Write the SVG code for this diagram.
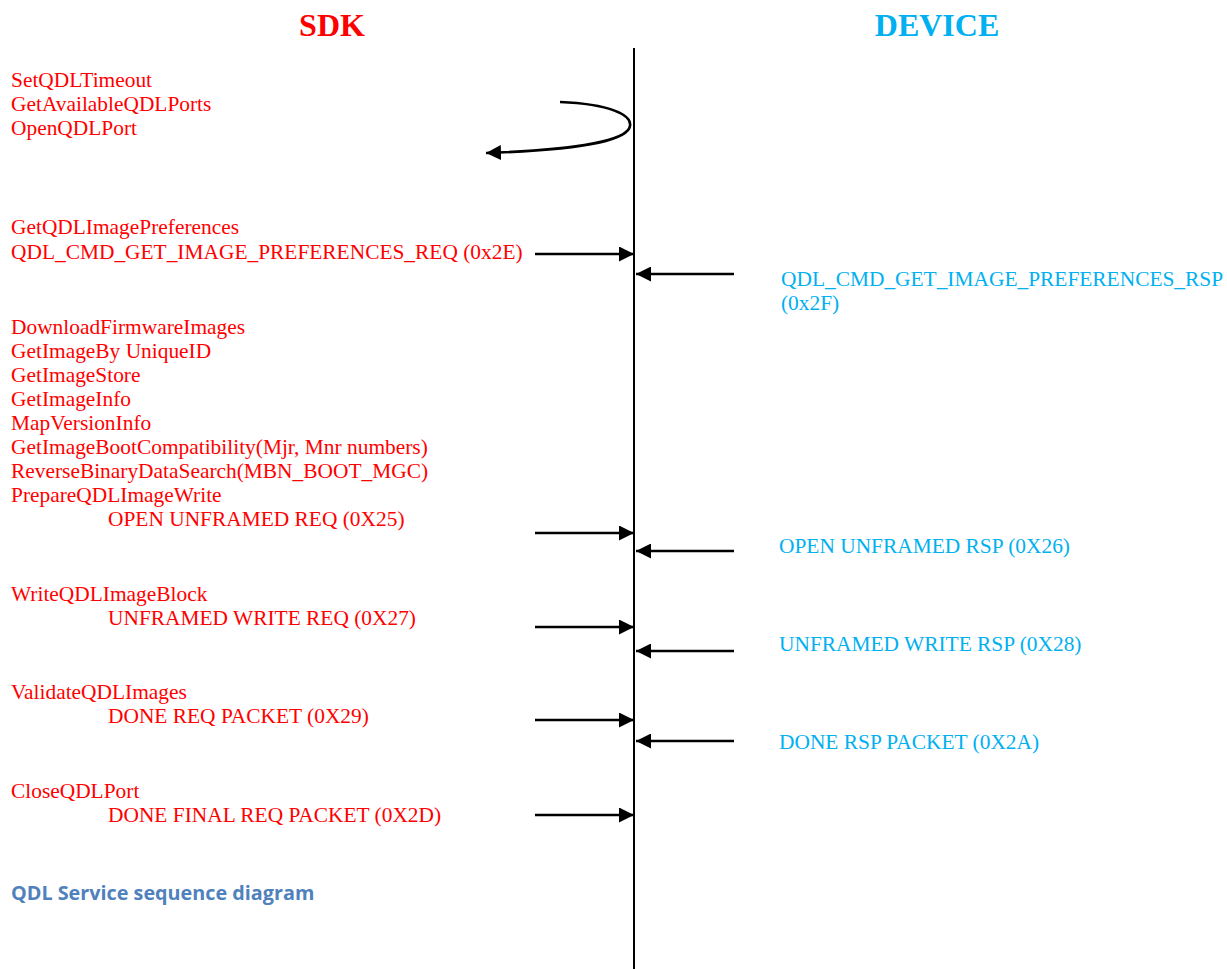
<svg xmlns="http://www.w3.org/2000/svg" width="1227" height="969" viewBox="0 0 1227 969">
<style>
.sdk{font-family:"Liberation Serif","Times New Roman",serif;font-size:21.4px;fill:#ff0000}
.dev{font-family:"Liberation Serif","Times New Roman",serif;font-size:21.4px;fill:#00b0f0}
.hdr{font-family:"Liberation Serif","Times New Roman",serif;font-size:32px;font-weight:bold;text-anchor:middle}
.cap{font-family:"Open Sans","Liberation Sans",sans-serif;font-size:19.8px;font-weight:bold;fill:#4f81bd}
.ln{stroke:#000;stroke-width:2.6;fill:none}
</style>
<defs>
<marker id="ah" viewBox="0 0 15 15" refX="15" refY="7.5" markerWidth="15" markerHeight="15" markerUnits="userSpaceOnUse" orient="auto">
<path d="M0,0 L15,7.5 L0,15 Z" fill="#000"/>
</marker>
</defs>
<rect width="1227" height="969" fill="#fff"/>
<g id="sdk-header"><text class="hdr" x="332" y="36" fill="#ff0000">SDK</text></g>
<g id="device-header"><text class="hdr" x="937" y="36" fill="#00b0f0">DEVICE</text></g>
<g id="lifeline"><line x1="634" y1="48" x2="634" y2="969" stroke="#000" stroke-width="2"/></g>
<g id="sdk-open">
<text class="sdk" x="11" y="86.5">SetQDLTimeout</text>
<text class="sdk" x="11" y="110.5">GetAvailableQDLPorts</text>
<text class="sdk" x="11" y="134.5">OpenQDLPort</text>
</g>
<g id="sdk-prefs">
<text class="sdk" x="11" y="234">GetQDLImagePreferences</text>
<text class="sdk" x="11" y="259">QDL_CMD_GET_IMAGE_PREFERENCES_REQ (0x2E)</text>
</g>
<g id="dev-prefs">
<text class="dev" x="781" y="286">QDL_CMD_GET_IMAGE_PREFERENCES_RSP</text>
<text class="dev" x="781" y="310">(0x2F)</text>
</g>
<g id="sdk-download">
<text class="sdk" x="11" y="334">DownloadFirmwareImages</text>
<text class="sdk" x="11" y="358">GetImageBy UniqueID</text>
<text class="sdk" x="11" y="382">GetImageStore</text>
<text class="sdk" x="11" y="406">GetImageInfo</text>
<text class="sdk" x="11" y="430">MapVersionInfo</text>
<text class="sdk" x="11" y="454">GetImageBootCompatibility(Mjr, Mnr numbers)</text>
<text class="sdk" x="11" y="478">ReverseBinaryDataSearch(MBN_BOOT_MGC)</text>
<text class="sdk" x="11" y="502">PrepareQDLImageWrite</text>
<text class="sdk" x="108" y="526">OPEN UNFRAMED REQ (0X25)</text>
</g>
<g id="dev-open"><text class="dev" x="779" y="553">OPEN UNFRAMED RSP (0X26)</text></g>
<g id="sdk-write">
<text class="sdk" x="11" y="601">WriteQDLImageBlock</text>
<text class="sdk" x="108" y="625">UNFRAMED WRITE REQ (0X27)</text>
</g>
<g id="dev-write"><text class="dev" x="779" y="651">UNFRAMED WRITE RSP (0X28)</text></g>
<g id="sdk-validate">
<text class="sdk" x="11" y="699">ValidateQDLImages</text>
<text class="sdk" x="108" y="723">DONE REQ PACKET (0X29)</text>
</g>
<g id="dev-done"><text class="dev" x="779" y="749">DONE RSP PACKET (0X2A)</text></g>
<g id="sdk-close">
<text class="sdk" x="11" y="798">CloseQDLPort</text>
<text class="sdk" x="108" y="822">DONE FINAL REQ PACKET (0X2D)</text>
</g>
<g id="caption"><text class="cap" x="11" y="900">QDL Service sequence diagram</text></g>
<g id="connectors">
<path class="ln" d="M560,102 C610,104 632,115 630,126 C628,140 580,150 486,153" marker-end="url(#ah)"/>
<line class="ln" x1="535" y1="254" x2="634" y2="254" marker-end="url(#ah)"/>
<line class="ln" x1="734" y1="274" x2="636" y2="274" marker-end="url(#ah)"/>
<line class="ln" x1="535" y1="533" x2="634" y2="533" marker-end="url(#ah)"/>
<line class="ln" x1="734" y1="551" x2="636" y2="551" marker-end="url(#ah)"/>
<line class="ln" x1="535" y1="627" x2="634" y2="627" marker-end="url(#ah)"/>
<line class="ln" x1="734" y1="651" x2="636" y2="651" marker-end="url(#ah)"/>
<line class="ln" x1="535" y1="720" x2="634" y2="720" marker-end="url(#ah)"/>
<line class="ln" x1="734" y1="741" x2="636" y2="741" marker-end="url(#ah)"/>
<line class="ln" x1="535" y1="815" x2="634" y2="815" marker-end="url(#ah)"/>
</g>
</svg>
